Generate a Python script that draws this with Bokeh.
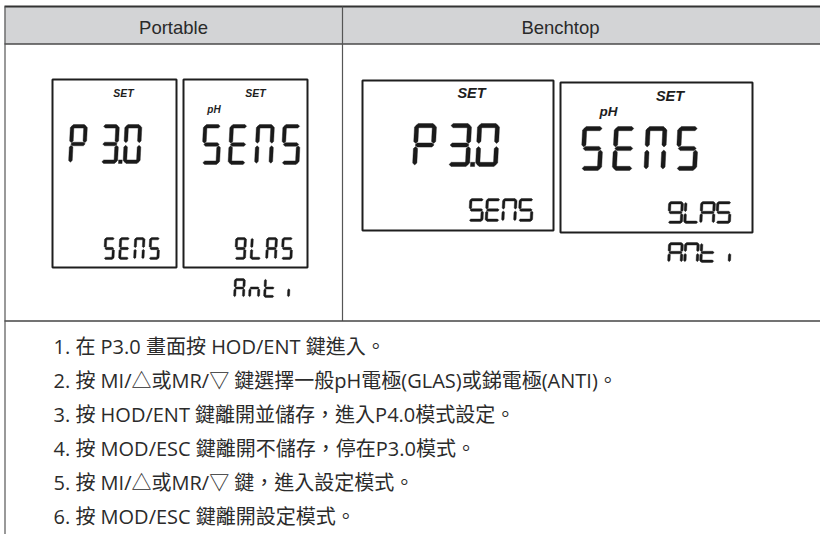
from bokeh.plotting import figure
from bokeh.models import Range1d
from bokeh.embed import file_html
from bokeh.resources import INLINE
from bokeh.core.properties import value

# ---------------- data (texts shown in the table) ----------------
header_labels = ["Portable", "Benchtop"]
set_label = "SET"
unit_label = "pH"
main_display = ["P3.0", "SENS"]          # large LCD readouts
sub_display = ["SENS", "9LAS"]           # small LCD readouts
alt_portable = "Anti"                    # alternative option shown under LCD
alt_benchtop = "ANti"
steps = [
    "1. 在 P3.0 畫面按 HOD/ENT 鍵進入。",
    "2. 按 MI/△或MR/▽ 鍵選擇一般pH電極(GLAS)或銻電極(ANTI)。",
    "3. 按 HOD/ENT 鍵離開並儲存，進入P4.0模式設定。",
    "4. 按 MOD/ESC 鍵離開不儲存，停在P3.0模式。",
    "5. 按 MI/△或MR/▽ 鍵，進入設定模式。",
    "6. 按 MOD/ESC 鍵離開設定模式。",
]

# 7-segment maps
SEG = {'P': 'abefg', '3': 'abcdg', '0': 'abcdef', 'S': 'acdfg', 'E': 'adefg',
       'N': 'abcef', '9': 'abcdfg', 'L': 'def', 'A': 'abcefg', 'n': 'ceg',
       't': 'defg', 'i': 'c'}


def seven_seg(text, x0, top, h, w, t, pitch, gap1=0.0, slant=0.05):
    xs, ys = [], []
    g = t * 0.35
    bottom = top + h

    def add(px, py):
        xs.append([x + slant * (bottom - y) for x, y in zip(px, py)])
        ys.append(list(py))

    def hseg(x1, x2, yc):
        add([x1 + g, x1 + g + t / 2, x2 - g - t / 2, x2 - g, x2 - g - t / 2, x1 + g + t / 2],
            [yc, yc - t / 2, yc - t / 2, yc, yc + t / 2, yc + t / 2])

    def vseg(xc, y1, y2):
        add([xc, xc + t / 2, xc + t / 2, xc, xc - t / 2, xc - t / 2],
            [y1 + g, y1 + g + t / 2, y2 - g - t / 2, y2 - g, y2 - g - t / 2, y1 + g + t / 2])

    slot = -1
    for ch in text:
        if ch == '.':
            dx = x0 + slot * pitch + (gap1 if slot >= 1 else 0) + w + (pitch - w) / 2
            add([dx - t / 2, dx + t / 2, dx + t / 2, dx - t / 2],
                [bottom - t, bottom - t, bottom, bottom])
            continue
        slot += 1
        lx = x0 + slot * pitch + (gap1 if slot >= 1 else 0)
        rx = lx + w
        L, R = lx + t / 2, rx - t / 2
        T, M, B = top + t / 2, top + h / 2, bottom - t / 2
        segs = SEG.get(ch, '')
        if 'a' in segs: hseg(lx, rx, T)
        if 'g' in segs: hseg(lx, rx, M)
        if 'd' in segs: hseg(lx, rx, B)
        if 'f' in segs: vseg(L, top, M)
        if 'b' in segs: vseg(R, top, M)
        if 'e' in segs: vseg(L, M, bottom)
        if 'c' in segs: vseg(R, M, bottom)
    return xs, ys


W, H = 820, 534
p = figure(width=W, height=H, x_range=Range1d(0, W), y_range=Range1d(H, 0),
           output_backend="svg", toolbar_location=None, min_border=0,
           x_axis_location=None, y_axis_location=None)
p.grid.visible = False
p.outline_line_color = None
p.background_fill_color = "white"
p.border_fill_color = "white"

# ---------------- table frame ----------------
p.quad(left=[4], right=[W], top=[6], bottom=[43.5], fill_color="#d3d4d6", line_color=None)
p.segment(x0=[4], y0=[6], x1=[W], y1=[6], line_color="#333333", line_width=2)
p.segment(x0=[4], y0=[43.5], x1=[W], y1=[43.5], line_color="#4a4a4a", line_width=1.5)
p.segment(x0=[342], y0=[6], x1=[342], y1=[320.5], line_color="#555555", line_width=1.2)
p.segment(x0=[4], y0=[320.5], x1=[W], y1=[320.5], line_color="#444444", line_width=1.5)
p.segment(x0=[4.5], y0=[6], x1=[4.5], y1=[H], line_color="#555555", line_width=1.2)

p.text(x=[173, 560], y=[26.5, 26.5], text=header_labels, text_font=value("Liberation Sans"),
       text_font_size="18.5px", text_align="center", text_baseline="middle", text_color="#2a2a2a")

# ---------------- LCD boxes ----------------
p.quad(left=[52, 183, 362, 560], right=[176, 307, 553, 752],
       top=[79, 79, 80, 82], bottom=[267, 267, 230, 232],
       fill_color=None, line_color="#1e1e1e", line_width=2)

# SET / pH labels
p.text(x=[123, 255], y=[92, 92], text=[set_label, set_label], text_font=value("Liberation Sans"),
       text_font_style="bold italic", text_font_size="10.5px", text_align="center",
       text_baseline="middle", text_color="#1e1e1e")
p.text(x=[213.5], y=[109], text=[unit_label], text_font=value("Liberation Sans"),
       text_font_style="bold italic", text_font_size="10px", text_align="center",
       text_baseline="middle", text_color="#1e1e1e")
p.text(x=[471, 669.5], y=[92.5, 95], text=[set_label, set_label], text_font=value("Liberation Sans"),
       text_font_style="bold italic", text_font_size="14.5px", text_align="center",
       text_baseline="middle", text_color="#1e1e1e")
p.text(x=[608], y=[111], text=[unit_label], text_font=value("Liberation Sans"),
       text_font_style="bold italic", text_font_size="13.5px", text_align="center",
       text_baseline="middle", text_color="#1e1e1e")

# 7-segment readouts
displays = [
    # text, x0, top, h, w, t, pitch, gap1
    (main_display[0], 68, 124, 39, 17, 3.6, 22.5, 9.5),
    (main_display[1], 201, 124, 40, 18, 3.6, 26.5, 0),
    (sub_display[0], 103, 237, 22, 10.5, 2.3, 15, 0),
    (sub_display[1], 234, 237, 22, 11, 2.3, 15.5, 0),
    (alt_portable, 233, 278, 19, 11, 2.2, 15, 0),
    (main_display[0], 412, 123, 43, 22, 4.2, 28, 7),
    (main_display[1], 580, 126, 44, 21, 4.2, 31.7, 0),
    (sub_display[0], 468, 198, 23, 14.5, 2.5, 16.5, 0),
    (sub_display[1], 667, 201, 22, 15, 2.5, 16, 0),
    (alt_benchtop, 667, 242, 20, 15, 2.5, 16, 0),
]
all_xs, all_ys = [], []
for txt, x0, top, h, w, t, pitch, gap1 in displays:
    xs, ys = seven_seg(txt, x0, top, h, w, t, pitch, gap1)
    all_xs += xs
    all_ys += ys
p.patches(xs=all_xs, ys=all_ys, fill_color="#1a1a1a", line_color="#1a1a1a", line_width=0.4)

# ---------------- instruction rows ----------------
row_y = [345.5 + 34.1 * i for i in range(len(steps))]
p.text(x=[53] * len(steps), y=row_y, text=steps,
       text_font=value("Open Sans, Noto Sans CJK TC"),
       text_font_size="20px", text_baseline="middle", text_color="#2b2b2b")

open("out.html", "w").write(file_html(p, INLINE))
